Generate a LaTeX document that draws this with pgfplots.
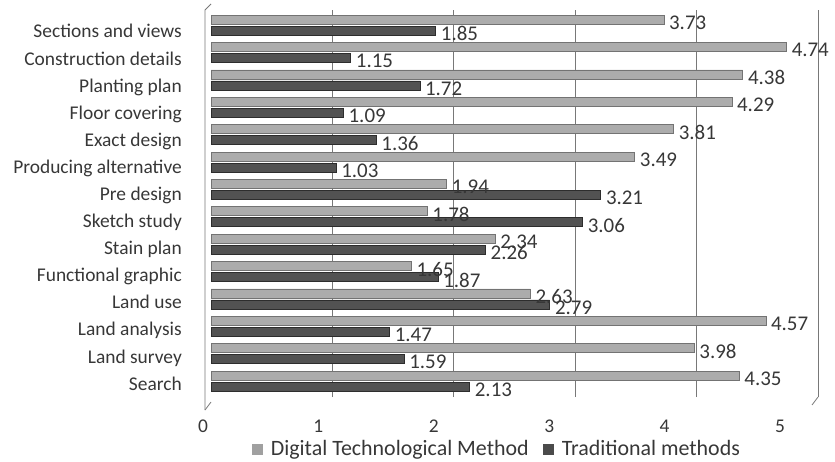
\documentclass[border=0pt]{standalone}
\usepackage{fontspec}
\setmainfont{Carlito}
\usepackage{pgfplots}
\pgfplotsset{compat=1.18}

\definecolor{txt}{RGB}{55,55,55}
\definecolor{gridc}{RGB}{120,120,120}
\definecolor{digFill}{RGB}{172,172,172}
\definecolor{digEdge}{RGB}{115,115,115}
\definecolor{traFill}{RGB}{82,82,82}
\definecolor{traEdge}{RGB}{45,45,45}
\definecolor{digLeg}{RGB}{160,160,160}
\definecolor{traLeg}{RGB}{75,75,75}

\newcommand{\lbl}{\fontsize{19.5}{22}\selectfont}
\newcommand{\vallbl}{\fontsize{21}{24}\selectfont}
\newcommand{\leglbl}{\fontsize{22}{25}\selectfont}

\begin{document}
\begin{tikzpicture}[x=1bp,y=1bp]
\path (0,0) rectangle (835,460);

% main chart: bars, grid, category labels, value labels
\begin{axis}[
  at={(211bp,63bp)}, anchor=south west,
  scale only axis, width=607bp, height=387bp,
  xmin=0, xmax=5, ymin=-0.58, ymax=13.55,
  xtick={1,2,3,4,5}, xticklabels={},
  xmajorgrids, grid style={gridc, line width=0.8pt},
  major tick length=0pt,
  ytick={-0.3297,0.6593,1.6484,2.6374,3.6264,4.6154,5.6044,6.5934,7.5824,8.5714,9.5604,10.5495,11.5385,12.5275},
  yticklabels={Search, Land survey, Land analysis, Land use, Functional graphic,
    Stain plan, Sketch study, Pre design, Producing alternative, Exact design,
    Floor covering, Planting plan, Construction details, Sections and views},
  yticklabel style={anchor=base east, inner sep=0pt, xshift=-29bp, font=\lbl, text=txt},
  axis line style={draw=none},
  clip=false,
  xbar, bar width=9bp,
  nodes near coords,
  nodes near coords style={anchor=west, font=\vallbl, text=txt, inner xsep=5bp, inner ysep=0pt, yshift=-3bp,
    /pgf/number format/assume math mode=true,
    /pgf/number format/fixed, /pgf/number format/fixed zerofill, /pgf/number format/precision=2},
  legend style={at={(0.471,-0.1344)}, anchor=center, draw=none, fill=none,
    font=\leglbl, text=txt, legend columns=2,
    /tikz/every even column/.append style={column sep=12bp}},
]
\addplot[bar shift=5.5bp, draw=digEdge, line width=0.6pt, fill=digFill,
  legend image code/.code={\fill[digLeg, draw=none] (0bp,-5.5bp) rectangle (11bp,5.5bp);
    \path[draw=none, fill=none] (11bp,0) -- (17bp,0);}]
  coordinates {
  (4.35,0) (3.98,1) (4.57,2) (2.63,3) (1.65,4) (2.34,5) (1.78,6)
  (1.94,7) (3.49,8) (3.81,9) (4.29,10) (4.38,11) (4.74,12) (3.73,13)};
\addplot[bar shift=-5.5bp, draw=traEdge, line width=0.6pt, fill=traFill,
  legend image code/.code={\fill[traLeg, draw=none] (0bp,-5.5bp) rectangle (11bp,5.5bp);
    \path[draw=none, fill=none] (11bp,0) -- (17bp,0);}]
  coordinates {
  (2.13,0) (1.59,1) (1.47,2) (2.79,3) (1.87,4) (2.26,5) (3.06,6)
  (3.21,7) (1.03,8) (1.36,9) (1.09,10) (1.72,11) (1.15,12) (1.85,13)};
\legend{Digital Technological Method, Traditional methods}
\end{axis}

% left wall and floor of the chart frame
\draw[gridc, line width=0.8pt] (205,50) -- (205,450) -- (211,456);
\draw[gridc, line width=0.8pt] (205,50) -- (211,58);
\draw[gridc, line width=0.8pt] (818,63) -- (812,55);

% tick labels along the front edge of the floor
\begin{axis}[
  at={(203bp,63bp)}, anchor=south west,
  scale only axis, width=577bp, height=387bp,
  xmin=0, xmax=5, ymin=0, ymax=1,
  xtick={0,...,5}, ytick=\empty,
  major tick length=0pt,
  axis line style={draw=none},
  xticklabel style={anchor=base, inner sep=0pt, yshift=-35bp, font=\lbl, text=txt},
  /pgf/number format/assume math mode=true,
]
\addplot[draw=none] coordinates {(0,0) (5,1)};
\end{axis}
\end{tikzpicture}
\end{document}
